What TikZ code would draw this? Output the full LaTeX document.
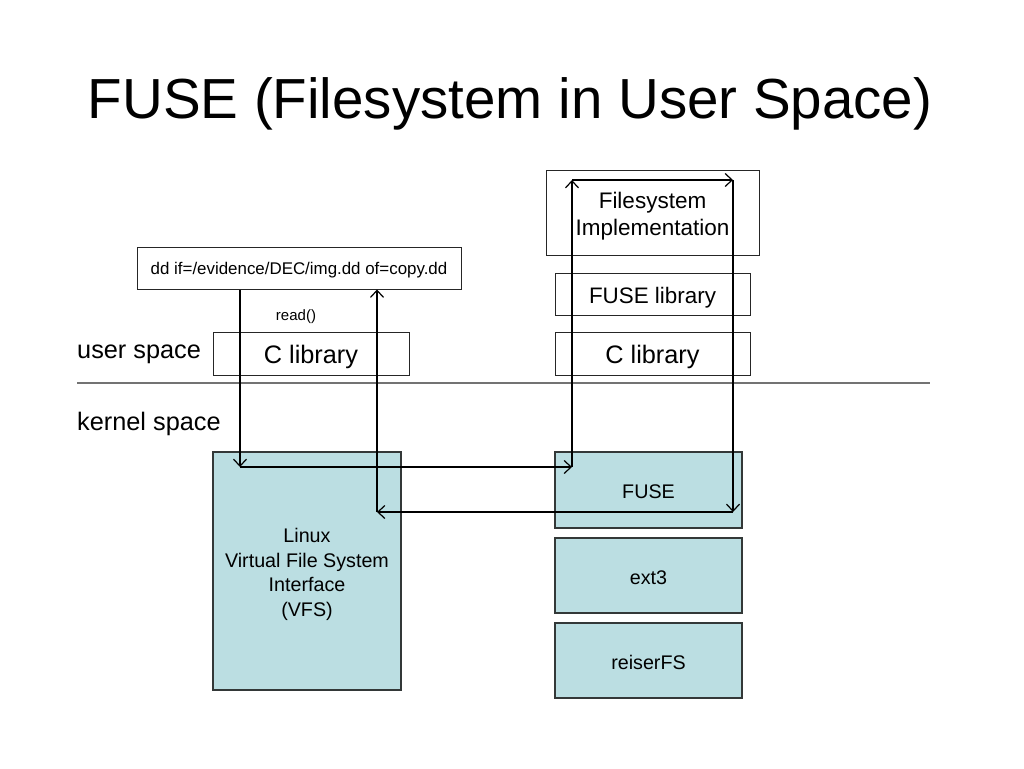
\documentclass[tikz,border=0pt]{standalone}
\usepackage{fontspec}
\setmainfont{Liberation Sans}
\usetikzlibrary{arrows.meta}
\definecolor{boxfill}{HTML}{BBDEE2}
\definecolor{boxline}{HTML}{333838}
\begin{document}
\begin{tikzpicture}[x=1pt,y=-1pt,
  plainbox/.style={draw=black!85, line width=1pt, inner sep=0pt},
  kbox/.style={draw=boxline, fill=boxfill, line width=1.1pt, inner sep=0pt},
  txt/.style={inner sep=0pt, align=center},
  ktxt/.style={txt, font=\fontsize{19.7}{24.5}\selectfont},
  flow/.style={line width=1.3pt, -{Straight Barb[length=7pt,width=13pt,line width=1.2pt]}}]
\useasboundingbox (0,0) rectangle (1024,768);
% title
\node[txt, anchor=base, font=\fontsize{56.5}{68}\selectfont] (title) at (510,118) {FUSE (Filesystem in User Space)};
% separator
\draw[line width=1.2pt, black!55] (77,383) -- (930,383);
\node[txt, anchor=west, font=\fontsize{25.3}{30}\selectfont] (us) at (77,354.5) {user space};
\node[txt, anchor=west, font=\fontsize{25.3}{30}\selectfont] (ks) at (77,424) {kernel space};
% user space boxes
\node[plainbox, minimum width=324pt, minimum height=42pt] (dd) at (299,268) {};
\node[txt, font=\fontsize{16.9}{20}\selectfont] (ddt) at ([yshift=-2pt]dd.center) {dd if=/evidence/DEC/img.dd of=copy.dd};
\node[txt, font=\fontsize{15}{18}\selectfont] (read) at (296,317) {read()};
\node[plainbox, minimum width=196pt, minimum height=43pt] (cl1) at (311,353.5) {};
\node[txt, font=\fontsize{25.3}{30}\selectfont] (cl1t) at ([yshift=-3.5pt]cl1.center) {C library};
\node[plainbox, minimum width=213pt, minimum height=85pt] (fsi) at (652.5,212.5) {};
\node[txt, font=\fontsize{22.5}{27}\selectfont] (fsit) at ([yshift=-3.5pt]fsi.center) {Filesystem\\Implementation};
\node[plainbox, minimum width=195pt, minimum height=42pt] (fl) at (652.5,294) {};
\node[txt, font=\fontsize{22.4}{27}\selectfont] (flt) at ([yshift=-3.5pt]fl.center) {FUSE library};
\node[plainbox, minimum width=195pt, minimum height=43pt] (cl2) at (652.5,353.5) {};
\node[txt, font=\fontsize{25.3}{30}\selectfont] (cl2t) at ([yshift=-3.5pt]cl2.center) {C library};
% kernel boxes
\node[kbox, minimum width=188pt, minimum height=238pt] (vfs) at (307,571) {};
\node[ktxt] (vfst) at ([yshift=-3.5pt]vfs.center) {Linux\\Virtual File System\\Interface\\(VFS)};
\node[kbox, minimum width=187pt, minimum height=76pt] (fuse) at (648.5,490) {};
\node[ktxt] (fuset) at ([yshift=-2pt]fuse.center) {FUSE};
\node[kbox, minimum width=187pt, minimum height=75pt] (ext) at (648.5,575.5) {};
\node[ktxt] (extt) at ([yshift=-2pt]ext.center) {ext3};
\node[kbox, minimum width=187pt, minimum height=75pt] (rfs) at (648.5,660.5) {};
\node[ktxt] (rfst) at ([yshift=-2pt]rfs.center) {reiserFS};
% flow waypoints
\coordinate (p1) at (240,467);
\coordinate (p2) at (572,467);
\coordinate (p3) at (572,180);
\coordinate (p4) at (733,180);
\coordinate (p5) at (733,512);
\coordinate (p6) at (377,512);
\coordinate (p7) at (377,290);
\draw[flow] (p1 |- dd.south) -- (p1);
\draw[flow] (p1) -- (p2);
\draw[flow] (p2) -- (p3);
\draw[flow] (p3) -- (p4);
\draw[flow] (p4) -- (p5);
\draw[flow] (p5) -- (p6);
\draw[flow] (p6) -- (p7 |- dd.south);
\end{tikzpicture}
\end{document}
